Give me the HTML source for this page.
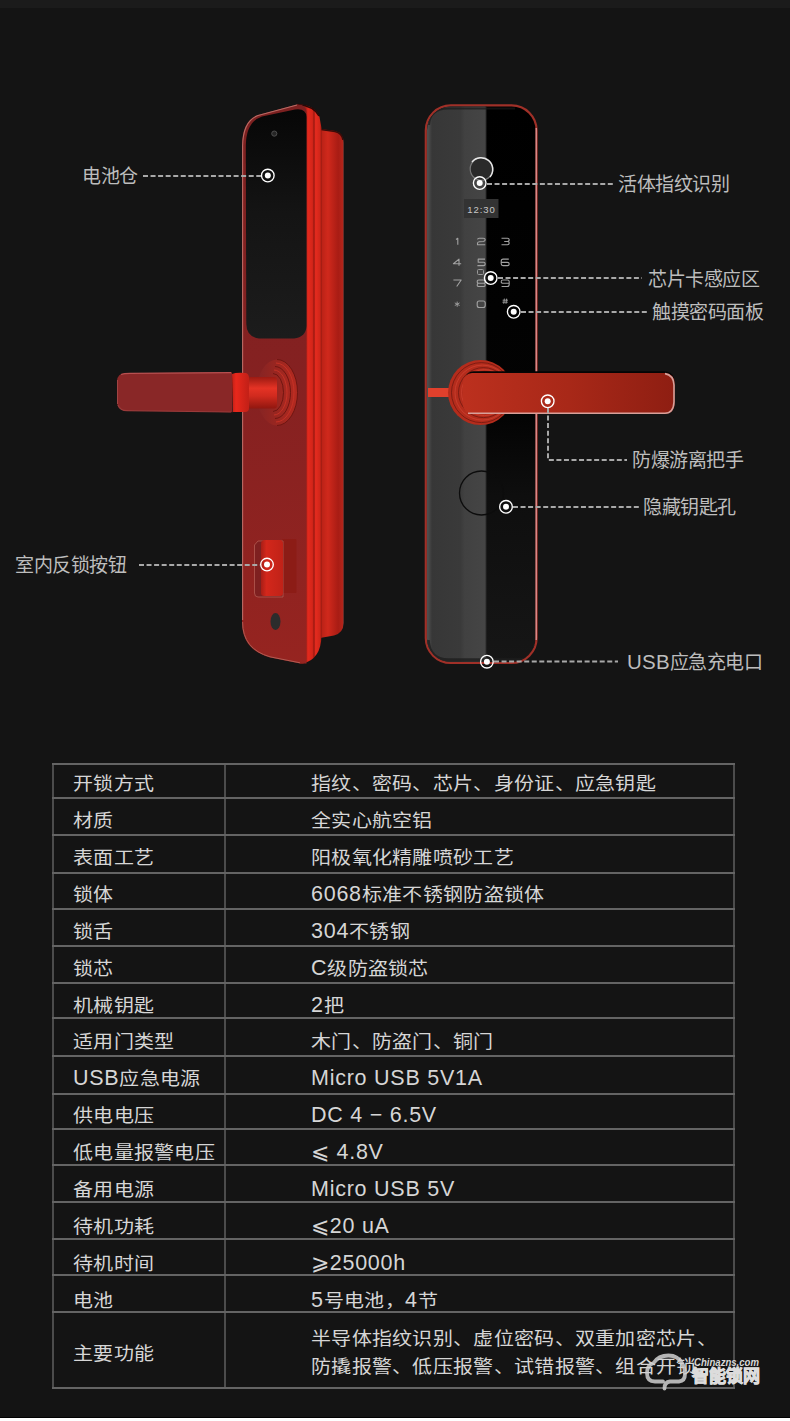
<!DOCTYPE html>
<html lang="zh-CN"><head><meta charset="utf-8">
<style>
html,body{margin:0;padding:0;}
body{width:790px;height:1421px;background:#141414;position:relative;overflow:hidden;font-family:"Liberation Sans",sans-serif;}
.top{position:absolute;left:0;top:0;width:790px;height:8px;background:#1b1b1b;}
.bot{position:absolute;left:0;top:1417px;width:790px;height:4px;background:#fff;border-top:1px solid #000;}
svg.art{position:absolute;left:0;top:0;}
.hl{position:absolute;left:52px;width:683px;height:2px;background:#646464;}
.vl{position:absolute;top:763px;height:626px;background:#4c4c4c;}
.c1,.c2{position:absolute;height:30px;line-height:30px;font-size:20px;color:#d6d6d6;white-space:nowrap;letter-spacing:0.3px;}
.l{letter-spacing:0.75px;font-size:21.5px;position:relative;top:-1px;}
.k{display:inline-block;transform:scaleY(0.9);}
.c1{left:73px;}
.c2{left:311px;}
.ml{line-height:28px;height:auto;}
.lab{position:absolute;font-size:19px;letter-spacing:-0.5px;color:#bdbdbd;white-space:nowrap;line-height:24px;height:24px;}
</style></head><body>
<div class="top"></div>
<svg class="art" width="790" height="740" viewBox="0 0 790 740">
<defs>
 <linearGradient id="bp" x1="321" x2="344" y1="0" y2="0" gradientUnits="userSpaceOnUse">
  <stop offset="0" stop-color="#b82116"/><stop offset="0.3" stop-color="#d0291c"/><stop offset="0.75" stop-color="#a81c14"/><stop offset="0.95" stop-color="#b3251b"/><stop offset="1" stop-color="#c46058"/>
 </linearGradient>
 <linearGradient id="band" x1="306" x2="322" y1="0" y2="0" gradientUnits="userSpaceOnUse">
  <stop offset="0" stop-color="#a81f16"/><stop offset="0.12" stop-color="#e3291d"/><stop offset="0.4" stop-color="#d42519"/><stop offset="0.5" stop-color="#9a1810"/><stop offset="0.6" stop-color="#e52b1f"/><stop offset="0.88" stop-color="#cf2619"/><stop offset="1" stop-color="#7c140d"/>
 </linearGradient>
 <linearGradient id="face" x1="242" x2="306" y1="100" y2="665" gradientUnits="userSpaceOnUse">
  <stop offset="0" stop-color="#7c2020"/><stop offset="0.5" stop-color="#852121"/><stop offset="1" stop-color="#962420"/>
 </linearGradient>
 <linearGradient id="scr" x1="0" x2="0" y1="112" y2="338" gradientUnits="userSpaceOnUse">
  <stop offset="0" stop-color="#070707"/><stop offset="0.45" stop-color="#141414"/><stop offset="1" stop-color="#1c1c1c"/>
 </linearGradient>
 <linearGradient id="neck" x1="0" x2="0" y1="377" y2="409" gradientUnits="userSpaceOnUse">
  <stop offset="0" stop-color="#9c1a12"/><stop offset="0.35" stop-color="#e53325"/><stop offset="0.6" stop-color="#d02a1e"/><stop offset="1" stop-color="#8e160f"/>
 </linearGradient>
 <linearGradient id="collar" x1="231" x2="248" y1="0" y2="0" gradientUnits="userSpaceOnUse">
  <stop offset="0" stop-color="#b81e15"/><stop offset="0.3" stop-color="#e8281c"/><stop offset="1" stop-color="#c42017"/>
 </linearGradient>
 <linearGradient id="btn" x1="261" x2="283" y1="0" y2="0" gradientUnits="userSpaceOnUse">
  <stop offset="0" stop-color="#a81e16"/><stop offset="0.25" stop-color="#d3271b"/><stop offset="1" stop-color="#c02218"/>
 </linearGradient>
 <linearGradient id="gray" x1="428" x2="487" y1="0" y2="0" gradientUnits="userSpaceOnUse">
  <stop offset="0" stop-color="#4e4e4e"/><stop offset="0.07" stop-color="#373737"/><stop offset="0.55" stop-color="#3a3a3a"/><stop offset="0.62" stop-color="#414141"/><stop offset="0.96" stop-color="#454545"/><stop offset="1" stop-color="#222"/>
 </linearGradient>
 <linearGradient id="blk" x1="0" x2="0" y1="104" y2="664" gradientUnits="userSpaceOnUse">
  <stop offset="0" stop-color="#000"/><stop offset="0.55" stop-color="#030303"/><stop offset="0.7" stop-color="#0e0e0e"/><stop offset="1" stop-color="#161616"/>
 </linearGradient>
 <linearGradient id="lev" x1="463" x2="675" y1="0" y2="0" gradientUnits="userSpaceOnUse">
  <stop offset="0" stop-color="#bc301e"/><stop offset="0.5" stop-color="#a82818"/><stop offset="1" stop-color="#8e1e12"/>
 </linearGradient>
 <linearGradient id="rosL" x1="257" x2="298" y1="0" y2="0" gradientUnits="userSpaceOnUse">
  <stop offset="0" stop-color="#852424"/><stop offset="0.5" stop-color="#9a2620"/><stop offset="1" stop-color="#b52a20"/>
 </linearGradient>
 <clipPath id="rclip"><rect x="427" y="106.6" width="108.5" height="555.2" rx="23.5"/></clipPath>
</defs>

<!-- ============ LEFT LOCK ============ -->
<!-- back plate -->
<path d="M320 129 L335 131 Q343.5 133 343.5 143 L343.5 623 Q343.5 633 334 635.5 L320 638 Z" fill="url(#bp)"/>
<path d="M321 129.5 L335 131.5 Q342 133 343 140" fill="none" stroke="#3a0c09" stroke-width="1.5"/>
<!-- side band -->
<path d="M297 104 Q315 105 319.5 117 L321.5 128 L321.5 636 Q321 659 303 663.5 L300 663.5 L306 112 Z" fill="url(#band)"/>
<path d="M298 104.5 Q314 106 319 116" fill="none" stroke="#2a0806" stroke-width="1.6"/>
<!-- front face -->
<path d="M242 146 Q242 121 258 115 L297 104.5 Q306 104 306.5 112 L306.5 663.5 L300 663.5 L270 657.5 Q242 650 242 622 Z" fill="url(#face)"/>
<path d="M242.6 620 L242.6 146 Q243 121 258 115.5 L297 105" fill="none" stroke="#b86a64" stroke-width="1.1"/>
<path d="M242.6 622 Q242.6 649 270 656.8 L300 662.8" fill="none" stroke="#b05a52" stroke-width="1"/>
<!-- screen -->
<path d="M245.8 146 Q246 122 262 116.5 L295 109.6 Q306 108 306.5 117 L306.5 326 Q306 337 294 338.5 L259 338.5 Q246.5 337 246.3 324 Z" fill="url(#scr)"/>
<circle cx="274.3" cy="133.6" r="2.6" fill="#262626" stroke="#4e4e4e" stroke-width="1"/>
<!-- rosette -->
<ellipse cx="277" cy="392.5" rx="20.5" ry="33" fill="url(#rosL)"/>
<g fill="none" stroke-width="0.9">
 <path d="M277 359.5 A20.5 33 0 0 1 277 425.5" stroke="#6a1410"/>
 <path d="M276 363 A18 29.5 0 0 1 276 422" stroke="#c83226"/>
 <path d="M275 366.5 A15.5 26 0 0 1 275 418.5" stroke="#6a1410"/>
 <path d="M274 370 A13 22.5 0 0 1 274 415" stroke="#c83226"/>
 <path d="M273 373.5 A10.5 19 0 0 1 273 411.5" stroke="#6a1410"/>
</g>
<!-- neck -->
<rect x="246" y="377" width="31" height="31.5" rx="3" fill="url(#neck)"/>
<!-- lever -->
<path d="M125 373.3 L232 372.3 L232.5 412.3 L125 410.5 Q117.5 410 117 402 L117 381 Q117.5 373.5 125 373.3 Z" fill="#892727"/>
<path d="M121 374.5 Q124 373.3 130 373.3 L231 372.6" fill="none" stroke="#b85050" stroke-width="1.3"/>
<path d="M118 405 Q120 410.5 127 410.7 L231 412" fill="none" stroke="#9a3a3a" stroke-width="1.2"/>
<path d="M117.5 380 L117.5 404" fill="none" stroke="#a04444" stroke-width="1"/>
<!-- collar -->
<path d="M232 374 Q236 372 246 373 Q249 374 249 378 L249 408 Q249 412 245 412 L233 412 Z" fill="url(#collar)"/>
<!-- button assembly -->
<rect x="282" y="539" width="14.5" height="54" rx="1" fill="#8c1c16"/>
<path d="M254.5 545 L258 541 L283 541 L283 597 L258 597 Q254.5 597 254.5 593 Z" fill="#7e2020" stroke="#b45a52" stroke-width="0.8"/>
<path d="M261 544 Q261 540 265 540 L280 540 Q283 540 283 544 L283 593 Q283 596 280 596 L264 596 Q261 596 261 593 Z" fill="url(#btn)"/>
<ellipse cx="275.5" cy="621.5" rx="5" ry="8.5" fill="#2c2c2c"/>

<!-- ============ RIGHT LOCK ============ -->
<rect x="425.8" y="105.4" width="110.8" height="557.6" rx="25" fill="url(#blk)" stroke="#a03028" stroke-width="2.2"/>
<path d="M536.2 128 L536.2 640" stroke="#e8a0a0" stroke-width="1.2"/>
<g clip-path="url(#rclip)">
 <rect x="427" y="106" width="59.5" height="558" fill="url(#gray)"/>
 <path d="M428 640 Q429 659.5 448 660 L520 660 Q534 659.5 535 645" fill="none" stroke="#1e1e1e" stroke-width="3.5" opacity="0.8"/>
 <path d="M429 125 Q430 108.5 448 108.5 L515 108.5" fill="none" stroke="#1a1a1a" stroke-width="2" opacity="0.7"/>
</g>
<!-- fingerprint -->
<circle cx="481.5" cy="169" r="11.3" fill="#2a2a2a" stroke="#777" stroke-width="1.2"/><path d="M472 162 A11.3 11.3 0 0 1 490 177" fill="none" stroke="#e8e8e8" stroke-width="1.5"/>
<!-- display -->
<rect x="464" y="199" width="34.5" height="19" fill="#333"/>
<text x="481.5" y="212.5" font-size="9.5" fill="#c8c8c8" text-anchor="middle" font-family="Liberation Sans" letter-spacing="0.9">12:30</text>
<!-- keypad -->
<g fill="none" stroke="#a2a2a2" stroke-width="1.1" stroke-linejoin="round">
<path transform="translate(453.20,238.25) scale(1)" d="M2.8 1.2 L4.6 0 V6.5"/>
<path transform="translate(477.20,238.25) scale(1)" d="M0.3 1.2 Q0.6 0 2 0 H6 Q8 0 8 1.6 Q8 3.1 6 3.3 L2 3.5 Q0.3 3.7 0.3 5 V6.5 H8"/>
<path transform="translate(501.20,238.25) scale(1)" d="M0.3 0 H6.3 Q8 0 8 1.6 Q8 3.2 6.3 3.2 H3 M6.3 3.2 Q8 3.2 8 4.85 Q8 6.5 6.3 6.5 H0.3"/>
<path transform="translate(453.20,259.15) scale(1)" d="M5.8 6.5 V0 L0.2 4.6 H8"/>
<path transform="translate(477.20,259.15) scale(1)" d="M7.8 0 H1 V3.1 H6.3 Q8 3.1 8 4.8 Q8 6.5 6.3 6.5 H0.2"/>
<path transform="translate(501.20,259.15) scale(1)" d="M7.6 0 H2 Q0 0 0 2 V4.7 Q0 6.5 1.8 6.5 H6.3 Q8 6.5 8 4.85 Q8 3.2 6.3 3.2 H0"/>
<path transform="translate(453.20,280.05) scale(1)" d="M0.2 0 H8 L3.5 6.5"/>
<path transform="translate(477.20,280.05) scale(1)" d="M1.6 0 H6.4 Q8 0 8 1.6 Q8 3.2 6.4 3.2 H1.6 Q0 3.2 0 1.6 Q0 0 1.6 0 Z M1.6 3.2 H6.4 Q8 3.2 8 4.85 Q8 6.5 6.4 6.5 H1.6 Q0 6.5 0 4.85 Q0 3.2 1.6 3.2 Z"/>
<path transform="translate(501.20,280.05) scale(1)" d="M0.4 6.5 H6 Q8 6.5 8 4.5 V1.7 Q8 0 6.3 0 H1.7 Q0 0 0 1.6 Q0 3.2 1.7 3.2 H8"/>
<path transform="translate(454.00,301.60) scale(0.8)" d="M4 0 V6.5 M1 1.6 L7 4.9 M1 4.9 L7 1.6"/>
<path transform="translate(477.20,300.95) scale(1)" d="M2 0 H6 Q8 0 8 2 V4.5 Q8 6.5 6 6.5 H2 Q0 6.5 0 4.5 V2 Q0 0 2 0 Z"/>
<path transform="translate(502.00,298.60) scale(0.8)" d="M3 0 L2.2 6.5 M5.8 0 L5 6.5 M0.8 2 H7.5 M0.5 4.5 H7.2"/>
</g>
<rect x="477.5" y="269.5" width="6" height="5" rx="1" fill="none" stroke="#999" stroke-width="1"/>
<!-- keyhole -->
<circle cx="481.5" cy="493" r="22" fill="none" stroke="#0c0c0c" stroke-width="1.3"/>
<!-- little bar -->
<path d="M428 388 L449 388 Q452 388 455 384 L458 384 L458 401 L455 401 Q452 397 449 397 L428 397 Z" fill="#e0402c"/>
<!-- rosette -->
<circle cx="480.5" cy="392.6" r="32.5" fill="#b42c1c"/>
<g fill="none" stroke-width="0.8">
 <circle cx="481.5" cy="392.6" r="30" stroke="#701810"/>
 <circle cx="482.5" cy="392.6" r="27.5" stroke="#cc4030"/>
 <circle cx="483.5" cy="392.6" r="25" stroke="#701810"/>
 <circle cx="484.5" cy="392.6" r="23" stroke="#cc4030"/>
 <circle cx="485.5" cy="392.6" r="21" stroke="#5a120c"/>
</g>
<!-- lever -->
<path d="M463 390 Q463 371.2 474 371.2 L664 371.2 Q672 371.2 674 378 L674 390 Z" fill="#050505"/>
<rect x="463" y="373" width="211.5" height="41" rx="9" fill="url(#lev)"/>
<path d="M468 413.3 L665 413.3 Q673.5 413 674 402 L674 385 Q673.5 375 665 373.6" fill="none" stroke="#d8a09a" stroke-width="1.6"/>
<!-- dashed leader lines -->
<g stroke="#a8a8a8" stroke-width="2" stroke-dasharray="5 2.55" fill="none">
<path d="M143 176 H261"/>
<path d="M139 565 H260"/>
<path d="M487 184 H614"/>
<path d="M498 278 H642"/>
<path d="M521 312 H649"/>
<path d="M548 408 V460 H627"/>
<path d="M513 507 H639"/>
<path d="M494 661.6 H618"/>
</g>
<g transform="translate(267.8,175.5)"><circle r="6.3" fill="none" stroke="#fff" stroke-width="1.35"/><circle r="3" fill="#fff"/></g><g transform="translate(267,564.6)"><circle r="6.3" fill="none" stroke="#fff" stroke-width="1.35"/><circle r="3" fill="#fff"/></g><g transform="translate(479.7,183)"><circle r="6.3" fill="none" stroke="#fff" stroke-width="1.35"/><circle r="3" fill="#fff"/></g><g transform="translate(490.7,278)"><circle r="6.3" fill="none" stroke="#fff" stroke-width="1.35"/><circle r="3" fill="#fff"/></g><g transform="translate(513.7,311.8)"><circle r="6.3" fill="none" stroke="#fff" stroke-width="1.35"/><circle r="3" fill="#fff"/></g><g transform="translate(547.7,401.3)"><circle r="6.3" fill="none" stroke="#fff" stroke-width="1.35"/><circle r="3" fill="#fff"/></g><g transform="translate(506,506.8)"><circle r="6.3" fill="none" stroke="#fff" stroke-width="1.35"/><circle r="3" fill="#fff"/></g><g transform="translate(486.9,661.7)"><circle r="6.3" fill="none" stroke="#fff" stroke-width="1.35"/><circle r="3" fill="#fff"/></g>
</svg>

<div class="vl" style="left:52px;width:2px"></div>
<div class="vl" style="left:223.8px;width:2.4px"></div>
<div class="vl" style="left:733px;width:2px"></div>
<div class="hl" style="top:763.0px"></div><div class="c1" style="top:768.9px"><span class="k">开锁方式</span></div><div class="c2" style="top:768.9px"><span class="k">指纹、密码、芯片、身份证、应急钥匙</span></div><div class="hl" style="top:797.0px"></div><div class="c1" style="top:805.8px"><span class="k">材质</span></div><div class="c2" style="top:805.8px"><span class="k">全实心航空铝</span></div><div class="hl" style="top:834.4px"></div><div class="c1" style="top:842.8px"><span class="k">表面工艺</span></div><div class="c2" style="top:842.8px"><span class="k">阳极氧化精雕喷砂工艺</span></div><div class="hl" style="top:872.0px"></div><div class="c1" style="top:879.7px"><span class="k">锁体</span></div><div class="c2" style="top:879.7px"><span class="l">6068</span><span class="k">标准不锈钢防盗锁体</span></div><div class="hl" style="top:907.5px"></div><div class="c1" style="top:916.6px"><span class="k">锁舌</span></div><div class="c2" style="top:916.6px"><span class="l">304</span><span class="k">不锈钢</span></div><div class="hl" style="top:944.6px"></div><div class="c1" style="top:953.6px"><span class="k">锁芯</span></div><div class="c2" style="top:953.6px"><span class="l">C</span><span class="k">级防盗锁芯</span></div><div class="hl" style="top:982.0px"></div><div class="c1" style="top:990.5px"><span class="k">机械钥匙</span></div><div class="c2" style="top:990.5px"><span class="l">2</span><span class="k">把</span></div><div class="hl" style="top:1017.2px"></div><div class="c1" style="top:1027.4px"><span class="k">适用门类型</span></div><div class="c2" style="top:1027.4px"><span class="k">木门、防盗门、铜门</span></div><div class="hl" style="top:1054.9px"></div><div class="c1" style="top:1064.3px"><span class="l">USB</span><span class="k">应急电源</span></div><div class="c2" style="top:1064.3px"><span class="l">Micro USB 5V1A</span></div><div class="hl" style="top:1092.7px"></div><div class="c1" style="top:1101.3px"><span class="k">供电电压</span></div><div class="c2" style="top:1101.3px"><span class="l">DC 4 − 6.5V</span></div><div class="hl" style="top:1128.2px"></div><div class="c1" style="top:1138.2px"><span class="k">低电量报警电压</span></div><div class="c2" style="top:1138.2px"><span class="l">⩽ 4.8V</span></div><div class="hl" style="top:1163.5px"></div><div class="c1" style="top:1175.1px"><span class="k">备用电源</span></div><div class="c2" style="top:1175.1px"><span class="l">Micro USB 5V</span></div><div class="hl" style="top:1201.0px"></div><div class="c1" style="top:1212.1px"><span class="k">待机功耗</span></div><div class="c2" style="top:1212.1px"><span class="l">⩽20 uA</span></div><div class="hl" style="top:1238.3px"></div><div class="c1" style="top:1249.0px"><span class="k">待机时间</span></div><div class="c2" style="top:1249.0px"><span class="l">⩾25000h</span></div><div class="hl" style="top:1273.9px"></div><div class="c1" style="top:1285.9px"><span class="k">电池</span></div><div class="c2" style="top:1285.9px"><span class="l">5</span><span class="k">号电池，</span><span class="l">4</span><span class="k">节</span></div><div class="hl" style="top:1311.2px"></div><div class="c1" style="top:1339.3px"><span class="k">主要功能</span></div><div class="hl" style="top:1386.8px"></div><div class="c2 ml" style="top:1325.3px"><span class="k">半导体指纹识别、虚位密码、双重加密芯片、</span><br><span class="k">防撬报警、低压报警、试错报警、组合开锁</span></div>
<div class="lab" style="left:82px;top:165px">电池仓</div>
<div class="lab" style="left:15px;top:554px">室内反锁按钮</div>
<div class="lab" style="left:618px;top:173px">活体指纹识别</div>
<div class="lab" style="left:648px;top:268px">芯片卡感应区</div>
<div class="lab" style="left:652px;top:301px">触摸密码面板</div>
<div class="lab" style="left:632px;top:449px">防爆游离把手</div>
<div class="lab" style="left:643px;top:496px">隐藏钥匙孔</div>
<div class="lab" style="left:627px;top:650px"><span style="letter-spacing:0.2px;font-size:20.5px">USB</span>应急充电口</div>
<svg style="position:absolute;left:0;top:0" width="790" height="1421" viewBox="0 0 790 1421">
<path d="M664.5 1388.5 Q664.5 1382 670 1381.5 L679 1381.5 Q685 1381 685 1374 Q685 1368 682.5 1364 Q678 1355.5 668.5 1355.5 Q658.5 1355.5 653.5 1363 Q647 1365.5 647 1373 Q647 1381.5 655 1381.5 L663 1381.5" fill="none" stroke="#d0d0d0" stroke-opacity="0.85" stroke-width="3.8" stroke-linecap="round"/>
<text x="694" y="1366" font-family="Liberation Sans" font-style="italic" font-weight="bold" font-size="11.5" fill="#d8d8d8" textLength="65" lengthAdjust="spacingAndGlyphs">Chinazns.com</text>
</svg>
<div style="position:absolute;left:692px;top:1366px;font-size:17px;line-height:22px;font-weight:bold;color:#dcdcdc;letter-spacing:0.1px;-webkit-text-stroke:0.9px #dcdcdc;white-space:nowrap">智能锁网</div>
<div class="bot"></div>
</body></html>
